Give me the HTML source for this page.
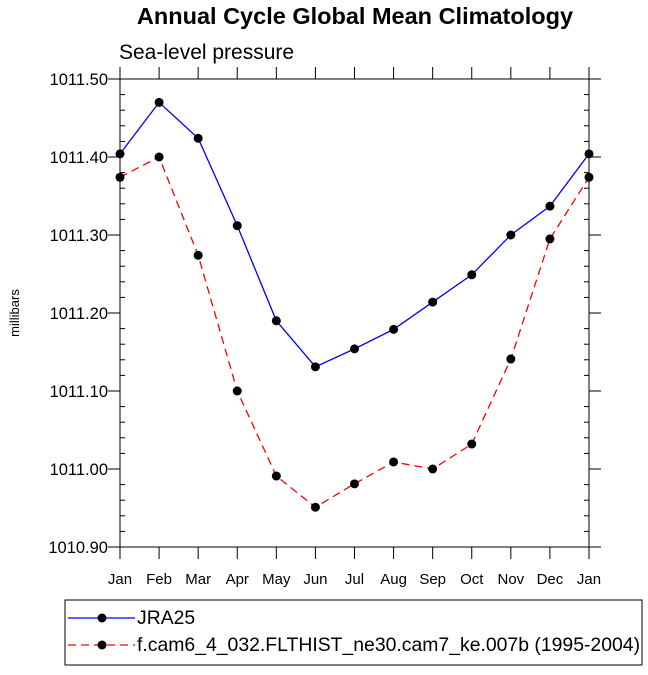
<!DOCTYPE html>
<html><head><meta charset="utf-8"><style>
body{margin:0;background:#fff;font-family:"Liberation Sans",Arial,sans-serif}
</style></head><body>
<svg id="c" width="648" height="670" xmlns="http://www.w3.org/2000/svg">
<text x="355" y="24" text-anchor="middle" font-size="23.5" font-weight="bold">Annual Cycle Global Mean Climatology</text>
<text x="119" y="59" font-size="21">Sea-level pressure</text>
<text transform="translate(19,313) rotate(-90)" text-anchor="middle" font-size="13">millibars</text>
<g id="ax"></g>
<g id="marks"></g>
<rect x="65" y="600" width="577" height="65" fill="none" stroke="#000" stroke-width="1"/>
<g>
<line x1="68" y1="618" x2="135" y2="618" stroke="#0000ff" stroke-width="1.3"/>
<circle cx="102" cy="618" r="4.5"/>
<text x="137" y="624" font-size="19.4">JRA25</text></g>
<g>
<line x1="68" y1="645" x2="135" y2="645" stroke="#ff0000" stroke-width="1.3" stroke-dasharray="8,5"/>
<circle cx="102" cy="645" r="4.5"/>
<text x="137" y="651" font-size="19.4">f.cam6_4_032.FLTHIST_ne30.cam7_ke.007b (1995-2004)</text></g>
</svg>
<script>
const months=["Jan","Feb","Mar","Apr","May","Jun","Jul","Aug","Sep","Oct","Nov","Dec","Jan"];
const jra=[1011.404,1011.470,1011.424,1011.312,1011.190,1011.131,1011.154,1011.179,1011.214,1011.249,1011.300,1011.337,1011.404];
const model=[1011.374,1011.400,1011.274,1011.100,1010.991,1010.951,1010.981,1011.009,1011.000,1011.032,1011.141,1011.295,1011.374];
const yTicks=[1010.90,1011.00,1011.10,1011.20,1011.30,1011.40,1011.50];
const yMin=1010.90,yMax=1011.50;
const L=120,R=589,T=79,B=547;
const NS="http://www.w3.org/2000/svg";
const xs=i=>L+(R-L)*i/(months.length-1);
const ys=v=>B-(v-yMin)/(yMax-yMin)*(B-T);
function mk(tag,attrs,parent,text){const e=document.createElementNS(NS,tag);for(const k in attrs)e.setAttribute(k,attrs[k]);if(text!==undefined)e.textContent=text;parent.appendChild(e);return e;}
const ax=document.getElementById('ax'),mg=document.getElementById('marks');
const frame=mk('rect',{x:L,y:T,width:R-L,height:B-T,fill:'none',stroke:'#000','stroke-width':1},ax);


yTicks.forEach(v=>{const y=ys(v);
mk('line',{x1:L-12,y1:y,x2:L,y2:y,stroke:'#000'},ax);
mk('line',{x1:R,y1:y,x2:R+12,y2:y,stroke:'#000'},ax);
const t=mk('text',{x:L-12,y:y+6,'text-anchor':'end','font-size':16.5},ax,v.toFixed(2));


});
for(let v=yMin;v<yMax-1e-6;v+=0.02){const y=ys(v);if(Math.abs(((v-yMin)/0.1)-Math.round((v-yMin)/0.1))<1e-3)continue;
mk('line',{x1:L,y1:y,x2:L+5,y2:y,stroke:'#000'},ax);mk('line',{x1:R-5,y1:y,x2:R,y2:y,stroke:'#000'},ax);}
months.forEach((m,i)=>{const x=xs(i);
mk('line',{x1:x,y1:B,x2:x,y2:B+12,stroke:'#000'},ax);
mk('line',{x1:x,y1:T-12,x2:x,y2:T,stroke:'#000'},ax);
const t=mk('text',{x:x,y:B+37,'text-anchor':'middle','font-size':15},ax,m);


});
function series(vals,color,dash,name){
const pts=vals.map((v,i)=>xs(i)+','+ys(v)).join(' ');
const pl=mk('polyline',{points:pts,fill:'none',stroke:color,'stroke-width':1.3,'stroke-dasharray':dash},mg);


vals.forEach((v,i)=>{const c=mk('circle',{cx:xs(i),cy:ys(v),r:4.5,fill:'#000'},mg);

});
}
series(jra,'#0000ff','none','jra25');
series(model,'#ff0000','8,5','model');
</script>
</body></html>
